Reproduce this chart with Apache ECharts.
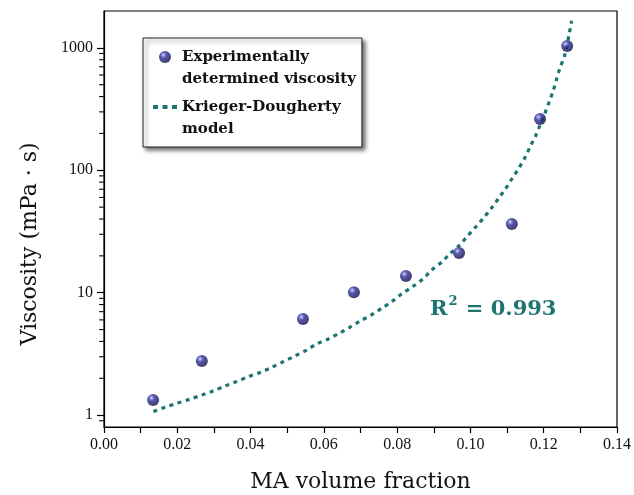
<!DOCTYPE html>
<html>
<head>
<meta charset="utf-8">
<script src="https://cdn.jsdelivr.net/npm/echarts@6/dist/echarts.min.js"></script>
<style>html,body{margin:0;padding:0;background:#fff;}#c{width:634px;height:495px;}</style>
</head>
<body>
<div id="c"></div>
<script>
// Experimental points
var expX = [0.0134, 0.0267, 0.0543, 0.0682, 0.0824, 0.0969, 0.1113, 0.1190, 0.1264];
var expY = [1.33, 2.77, 6.10, 10.1, 13.7, 21.1, 36.4, 262, 1036];
// Krieger-Dougherty model curve
var kdX = [0.0135,0.0167,0.0199,0.0235,0.0267,0.0299,0.0330,0.0362,0.0394,0.0428,0.0458,0.0489,0.0521,0.0553,0.0580,0.0612,0.0642,0.0671,0.0699,0.0729,0.0758,0.0785,0.0812,0.0842,0.0870,0.0894,0.0922,0.0944,0.0969,0.0991,0.1015,0.1035,0.1057,0.1077,0.1096,0.1114,0.1132,0.1149,0.1163,0.1178,0.1190,0.1203,0.1215,0.1226,0.1235,0.1244,0.1257,0.1270,0.1276];
var kdY = [1.07,1.16,1.25,1.35,1.46,1.58,1.73,1.88,2.06,2.24,2.46,2.73,3.04,3.40,3.81,4.19,4.66,5.22,5.87,6.57,7.46,8.44,9.76,11.2,12.9,15.3,17.8,20.8,24.2,28.8,34.6,40.5,48.9,59.1,70.7,86.0,104,127,156,191,234,292,362,447,554,681,863,1316,1667];
var xTickLabels = ['0.00','0.02','0.04','0.06','0.08','0.10','0.12','0.14'];
var yTickLabels = ['1','10','100','1000'];
var yMinorTicks = [0.9, 2,3,4,5,6,7,8,9, 20,30,40,50,60,70,80,90, 200,300,400,500,600,700,800,900];
var seriesNames = ['Experimentally\ndetermined viscosity', 'Krieger-Dougherty\nmodel'];
var xName = 'MA volume fraction';
var yName = 'Viscosity (mPa \u00b7 s)';

var teal = '#1d7471';
var serif = 'DejaVu Serif';
var numFont = 'Liberation Serif';

var chart = echarts.init(document.getElementById('c'), null, {renderer: 'canvas'});
var sphere = {
  type: 'radial', x: 0.36, y: 0.33, r: 0.68,
  colorStops: [
    {offset: 0, color: '#eeeeff'},
    {offset: 0.14, color: '#8080dd'},
    {offset: 0.4, color: '#2c2c92'},
    {offset: 1, color: '#0e0e48'}
  ]
};
var dashIcon = 'path://M0,0h5v4h-5zM9.5,0h5v4h-5zM19,0h5v4h-5z';
chart.setOption({
  animation: false,
  backgroundColor: '#fff',
  grid: {left: 104, right: 17, top: 11, bottom: 68, show: true, borderColor: '#000', borderWidth: 1.2, outerBoundsMode: 'none', containLabel: false},
  legend: {
    orient: 'vertical', left: 143, top: 38,
    padding: [-14, 6, 7, 10],
    itemGap: -16, itemWidth: 24, itemHeight: 12,
    backgroundColor: '#fff', borderColor: '#222', borderWidth: 1,
    shadowColor: 'rgba(0,0,0,0.55)', shadowBlur: 4, shadowOffsetX: 3, shadowOffsetY: 3,
    textStyle: {fontFamily: serif, fontWeight: 'bold', fontSize: 15, lineHeight: 22, color: '#111'},
    formatter: function (name) { return '\n' + name; },
    data: [{name: seriesNames[0]}, {name: seriesNames[1], icon: dashIcon, itemStyle: {color: teal}}]
  },
  xAxis: {
    type: 'value', min: 0, max: 0.14, interval: 0.02,
    name: xName, nameLocation: 'middle', nameGap: 44,
    nameTextStyle: {fontFamily: serif, fontSize: 22, color: '#111'},
    axisLine: {lineStyle: {color: '#000', width: 1.2}},
    axisTick: {show: true, inside: false, length: 6, lineStyle: {color: '#000', width: 1.2}},
    minorTick: {show: true, splitNumber: 2, length: 6, lineStyle: {color: '#000', width: 1.2}},
    splitLine: {show: false},
    axisLabel: {fontFamily: numFont, fontSize: 16, color: '#111', margin: 10,
      formatter: function (v) { var i = Math.round(v / 0.02); return xTickLabels[i] || ''; }}
  },
  yAxis: {
    type: 'log', logBase: 10, min: 0.8, max: 2000,
    name: yName, nameLocation: 'middle', nameGap: 63,
    nameTextStyle: {fontFamily: serif, fontSize: 22, color: '#111', padding: [0, 50, 0, 0]},
    axisLine: {lineStyle: {color: '#000', width: 1.2}},
    axisTick: {show: true, inside: false, length: 7, lineStyle: {color: '#000', width: 1.2}},
    splitLine: {show: false},
    axisLabel: {fontFamily: numFont, fontSize: 16, color: '#111', margin: 11, showMinLabel: false, showMaxLabel: false,
      formatter: function (v) {
        for (var i = 0; i < yTickLabels.length; i++) { if (Math.abs(Number(yTickLabels[i]) - v) < 1e-6 * v) return yTickLabels[i]; }
        return '';
      }}
  },
  series: [
    {
      name: seriesNames[0], type: 'scatter', symbol: 'circle', symbolSize: 12, z: 3,
      itemStyle: {color: sphere},
      data: expX.map(function (x, i) { return [x, expY[i]]; })
    },
    {
      name: seriesNames[1], type: 'line', symbol: 'none', smooth: 0.3, z: 2,
      lineStyle: {color: teal, width: 3.2, type: [4, 4.5]},
      itemStyle: {color: teal},
      data: kdX.map(function (x, i) { return [x, kdY[i]]; })
    },
    {
      name: 'yMinorTicks', type: 'scatter', clip: false, silent: true, z: 5,
      symbol: 'rect', symbolSize: [4.5, 1.1], symbolOffset: [-2.6, 0],
      itemStyle: {color: '#000', opacity: 1},
      emphasis: {disabled: true},
      tooltip: {show: false},
      data: yMinorTicks.map(function (v) { return [0, v]; })
    }
  ],
  graphic: [{
    type: 'text', left: 430, top: 292, z: 10,
    style: {
      text: '{r|R}{s|2}{r| = 0.993}',
      rich: {
        r: {fontFamily: serif, fontWeight: 'bold', fontSize: 21, fill: teal, lineHeight: 28, verticalAlign: 'bottom'},
        s: {fontFamily: serif, fontWeight: 'bold', fontSize: 13, fill: teal, lineHeight: 28, verticalAlign: 'top', padding: [3, 1, 0, 1]}
      },
      fill: teal
    }
  }]
});
</script>
</body>
</html>
